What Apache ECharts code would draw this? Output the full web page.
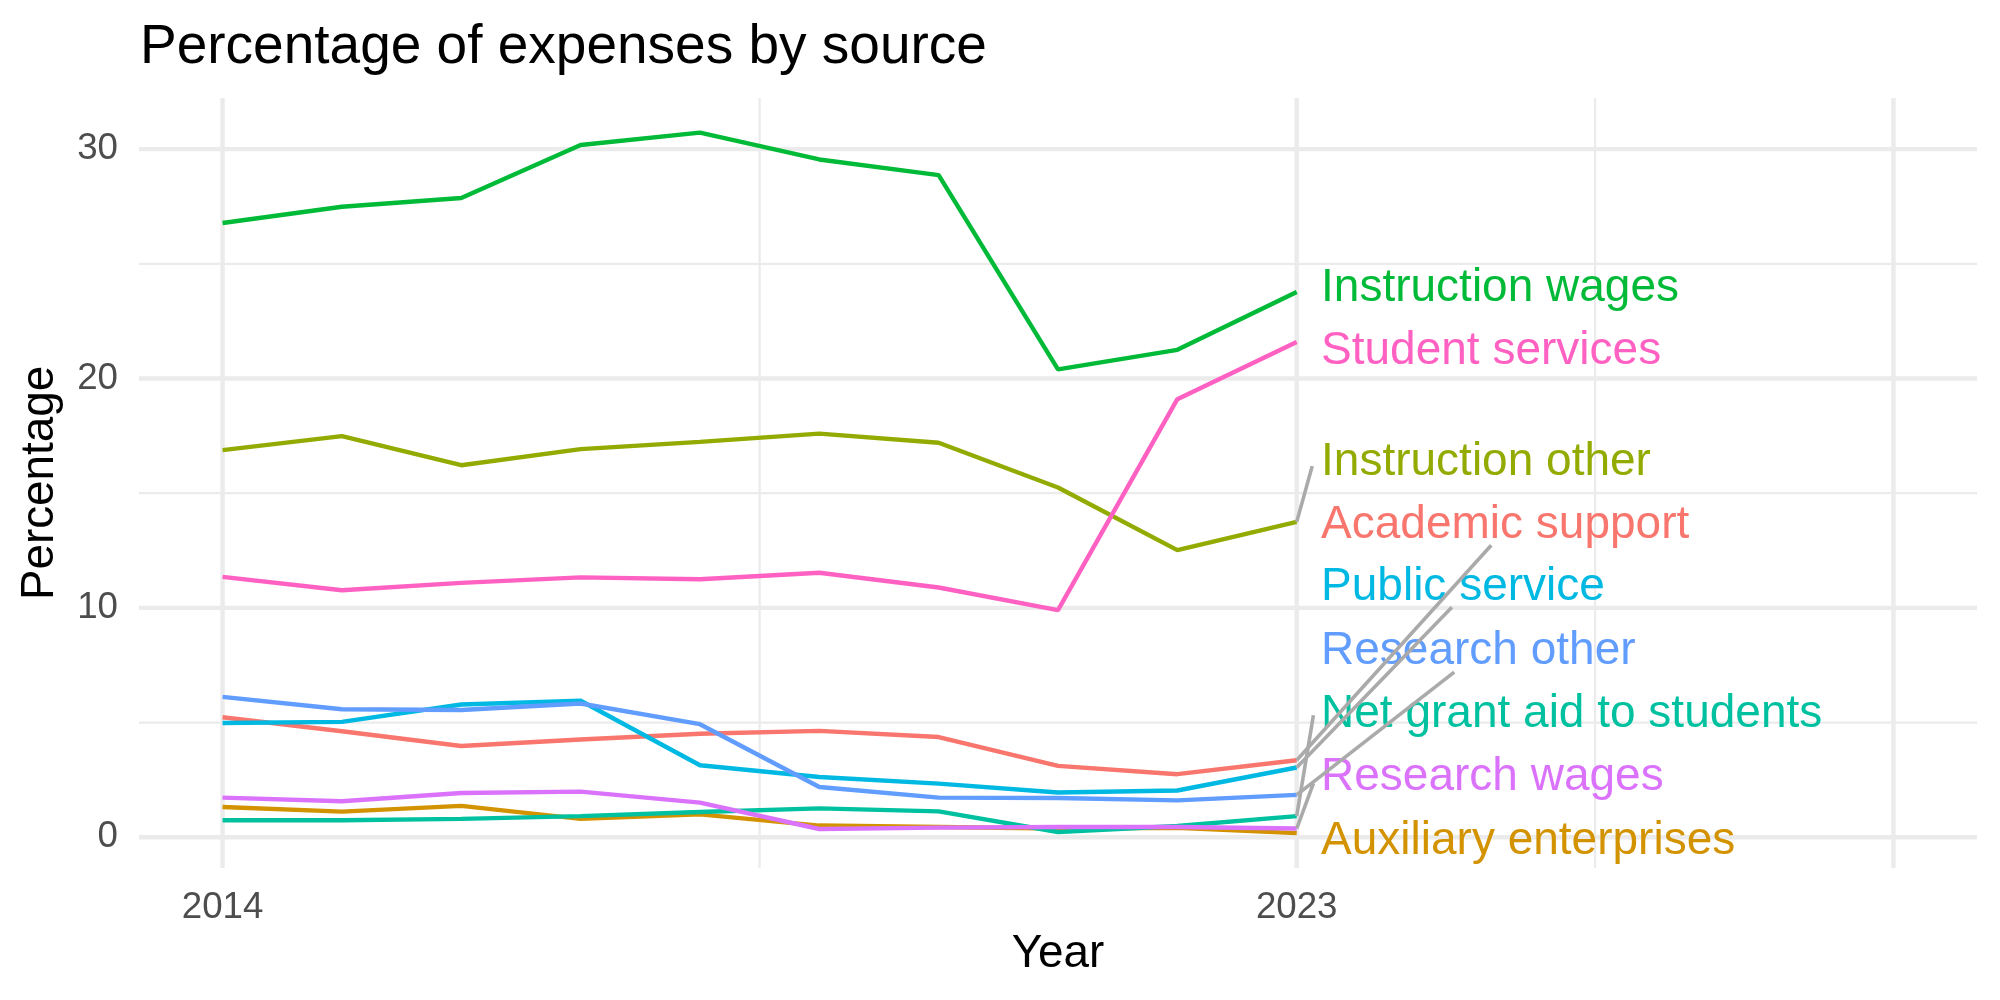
<!DOCTYPE html>
<html>
<head>
<meta charset="utf-8">
<script src="https://cdn.jsdelivr.net/npm/echarts@6/dist/echarts.min.js"></script>
<style>
  html, body { margin: 0; padding: 0; background: #fff; }
  #chart { width: 2000px; height: 1000px; }
</style>
</head>
<body>
<div id="chart"></div>
<script>
const years = [2014, 2015, 2016, 2017, 2018, 2019, 2020, 2021, 2022, 2023];

// series values (percent)
const academicSupport = [5.23, 4.62, 3.98, 4.26, 4.51, 4.64, 4.37, 3.11, 2.75, 3.36];
const auxiliaryEnterprises = [1.32, 1.12, 1.37, 0.80, 1.00, 0.51, 0.45, 0.38, 0.41, 0.18];
const instructionOther = [16.88, 17.49, 16.22, 16.92, 17.24, 17.60, 17.20, 15.25, 12.52, 13.75];
const instructionWages = [26.78, 27.49, 27.87, 30.18, 30.72, 29.55, 28.87, 20.40, 21.25, 23.77];
const netGrantAid = [0.74, 0.74, 0.80, 0.92, 1.10, 1.26, 1.13, 0.23, 0.49, 0.92];
const publicService = [4.98, 5.03, 5.79, 5.95, 3.14, 2.63, 2.34, 1.95, 2.04, 3.04];
const researchOther = [6.12, 5.58, 5.55, 5.83, 4.93, 2.19, 1.73, 1.71, 1.61, 1.85];
const researchWages = [1.73, 1.57, 1.93, 1.99, 1.51, 0.36, 0.42, 0.45, 0.45, 0.38];
const studentServices = [11.35, 10.77, 11.09, 11.33, 11.25, 11.53, 10.89, 9.90, 19.10, 21.59];

const sources = [
  'Academic support', 'Auxiliary enterprises', 'Instruction other', 'Instruction wages',
  'Net grant aid to students', 'Public service', 'Research other', 'Research wages', 'Student services'
];
const values = [
  academicSupport, auxiliaryEnterprises, instructionOther, instructionWages,
  netGrantAid, publicService, researchOther, researchWages, studentServices
];
const colors = ['#F8766D', '#D39200', '#93AA00', '#00BA38', '#00C19F', '#00B9E3', '#619CFF', '#DB72FB', '#FF61C3'];

// repelled label positions (y) and where their leader segments end
const labelX = 2023.2;
const labelY = [13.59, -0.17, 16.34, 23.92, 5.35, 10.88, 8.11, 2.60, 21.20];
const segmentEnd = [
  [2024.63, 12.73], null, [2023.13, 16.18], null,
  [2023.14, 5.32], [2024.30, 10.03], [2024.32, 7.20], [2023.14, 2.35], null
];

const xTicks = [2014, 2023];
const yTicks = [0, 10, 20, 30];
const xMajor = [2014, 2023, 2028];
const xMinor = [2018.5, 2025.5];
const yMajor = [0, 10, 20, 30];
const yMinor = [5, 15, 25];

const X_MIN = 2013.3, X_MAX = 2028.7;
const Y_MIN = -1.34, Y_MAX = 32.23;
const FONT = '"Liberation Sans", Arial, Helvetica, sans-serif';

const gridLine = (pts, width) => ({
  type: 'line',
  data: pts,
  silent: true,
  showSymbol: false,
  animation: false,
  z: 1,
  lineStyle: { color: '#EBEBEB', width: width }
});

const series = [];
xMinor.forEach((v) => series.push(gridLine([[v, Y_MIN], [v, Y_MAX]], 2.2)));
yMinor.forEach((v) => series.push(gridLine([[X_MIN, v], [X_MAX, v]], 2.2)));
xMajor.forEach((v) => series.push(gridLine([[v, Y_MIN], [v, Y_MAX]], 4.4)));
yMajor.forEach((v) => series.push(gridLine([[X_MIN, v], [X_MAX, v]], 4.4)));

sources.forEach((name, i) => {
  series.push({
    name: name,
    type: 'line',
    data: years.map((yr, j) => [yr, values[i][j]]),
    showSymbol: false,
    animation: false,
    z: 2,
    lineStyle: { color: colors[i], width: 4.4 },
    itemStyle: { color: colors[i] }
  });
});

series.push({
  type: 'scatter',
  symbolSize: 1,
  animation: false,
  silent: true,
  z: 3,
  itemStyle: { color: 'rgba(0,0,0,0)', opacity: 1 },
  data: sources.map((name, i) => ({
    name: name,
    value: [labelX, labelY[i]],
    label: { color: colors[i] }
  })),
  label: {
    show: true,
    position: 'right',
    distance: 0,
    formatter: '{b}',
    fontSize: 46,
    fontFamily: FONT
  }
});

sources.forEach((name, i) => {
  if (!segmentEnd[i]) return;
  const last = values[i][values[i].length - 1];
  series.push({
    type: 'line',
    data: [[years[years.length - 1], last], segmentEnd[i]],
    silent: true,
    showSymbol: false,
    animation: false,
    z: 4,
    lineStyle: { color: '#AAAAAA', width: 3.6 }
  });
});

const chart = echarts.init(document.getElementById('chart'), null, { renderer: 'canvas' });
chart.setOption({
  animation: false,
  backgroundColor: '#fff',
  title: {
    text: 'Percentage of expenses by source',
    left: 140,
    top: 20,
    padding: 0,
    textStyle: { fontSize: 55, fontWeight: 'normal', color: '#000', fontFamily: FONT }
  },
  grid: { left: 139, right: 23, top: 98, bottom: 132, containLabel: false },
  xAxis: {
    type: 'value',
    min: X_MIN,
    max: X_MAX,
    name: 'Year',
    nameLocation: 'middle',
    nameGap: 62,
    nameTextStyle: { fontSize: 45.8, color: '#000', fontFamily: FONT },
    axisLine: { show: false, onZero: false },
    axisTick: { show: false },
    splitLine: { show: false },
    axisLabel: {
      customValues: xTicks,
      fontSize: 36.7,
      color: '#4D4D4D',
      fontFamily: FONT,
      margin: 21,
      formatter: (v) => String(v)
    }
  },
  yAxis: {
    type: 'value',
    min: Y_MIN,
    max: Y_MAX,
    name: 'Percentage',
    nameLocation: 'middle',
    nameRotate: 90,
    nameGap: 76,
    nameTextStyle: { fontSize: 45.8, color: '#000', fontFamily: FONT },
    axisLine: { show: false, onZero: false },
    axisTick: { show: false },
    splitLine: { show: false },
    axisLabel: {
      customValues: yTicks,
      fontSize: 36.7,
      color: '#4D4D4D',
      fontFamily: FONT,
      margin: 21,
      formatter: (v) => String(v)
    }
  },
  series: series
});
</script>
</body>
</html>
